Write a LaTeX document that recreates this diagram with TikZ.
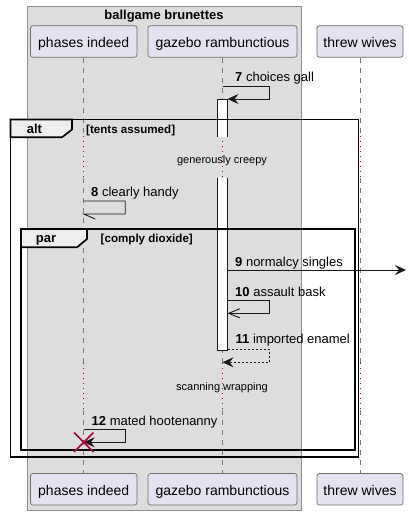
\documentclass[tikz,border=0pt]{standalone}
\usepackage{fontspec}
\setmainfont{Liberation Sans}
\usetikzlibrary{arrows.meta,calc}
\definecolor{grpfill}{HTML}{DDDDDD}
\definecolor{grpdraw}{HTML}{8F8F8F}
\definecolor{partfill}{HTML}{E2E2F0}
\definecolor{partdraw}{HTML}{6E6E6E}
\definecolor{lifecol}{HTML}{7A7A7A}
\definecolor{delaycol}{HTML}{A80036}
\definecolor{tabfill}{HTML}{EEEEEE}
\definecolor{ink}{HTML}{181818}
\begin{document}
\begin{tikzpicture}[x=1pt,y=-1pt,
 part/.style={draw=partdraw,fill=partfill,line width=0.7pt,rounded corners=2.5pt,minimum height=31.5pt,inner sep=0pt,text height=12pt,text depth=0pt,font=\fontsize{14}{16}\selectfont},
 life/.style={draw=lifecol,line width=0.8pt,dash pattern=on 5pt off 5pt},
 delay/.style={draw=delaycol,line width=0.9pt,dash pattern=on 1pt off 4pt},
 msgtxt/.style={anchor=base west,inner sep=0pt,font=\fontsize{13}{15}\selectfont},
 arr/.style={draw=ink,line width=0.9pt,-{Stealth[length=11pt,width=10pt,inset=4pt]}},
 openarr/.style={draw=ink,line width=0.9pt,-{Straight Barb[length=11pt,width=9pt]}},
 plain/.style={draw=ink,line width=0.9pt},
 frame/.style={draw=black,line width=1.7pt},
 tab/.style={fill=tabfill,draw=black,line width=1.7pt},
 ftitle/.style={anchor=base west,inner sep=0pt,font=\fontsize{13}{15}\selectfont\bfseries},
 fcond/.style={anchor=base west,inner sep=0pt,font=\fontsize{11.6}{13}\selectfont\bfseries},
 delaytxt/.style={anchor=base,inner sep=0pt,font=\fontsize{11}{13}\selectfont},
 act/.style={fill=white,draw=ink,line width=0.9pt}
]
\useasboundingbox (0,0) rectangle (408,515);
% group box
\node[draw=grpdraw,fill=grpfill,line width=0.8pt,minimum width=274.5pt,minimum height=504pt,inner sep=0pt] (grp) at (164.25,258) {};
\node[anchor=base,inner sep=0pt,font=\fontsize{13}{15}\selectfont\bfseries] (grptitle) at (164,19) {ballgame brunettes};
% participants
\node[part,minimum width=106.5pt] (pA) at (83.75,41.5) {phases indeed};
\node[part,minimum width=149pt] (pB) at (222.5,41.5) {gazebo rambunctious};
\node[part,minimum width=86pt] (pC) at (360,41.5) {threw wives};
\node[part,minimum width=106.5pt] (pAb) at (83.75,489.3) {phases indeed};
\node[part,minimum width=149pt] (pBb) at (222.5,489.3) {gazebo rambunctious};
\node[part,minimum width=86pt] (pCb) at (360,489.3) {threw wives};
% lifelines
\foreach \p in {A,B,C}{
  \coordinate (\p1) at (p\p.south |- 0,136);
  \coordinate (\p2) at (p\p.south |- 0,178);
  \coordinate (\p3) at (p\p.south |- 0,363);
  \coordinate (\p4) at (p\p.south |- 0,410);
  \draw[life] (p\p.south) -- (\p1);
  \draw[delay] (\p1) -- (\p2);
  \draw[life] (\p2) -- (\p3);
  \draw[delay] (\p3) -- (\p4);
  \draw[life] (\p4) -- (p\p b.north);
}
% activation
\path[act] (217.5,137) -- (217.5,99) -- (227.5,99) -- (227.5,137);
\path[act] (217.5,178) -- (217.5,350) -- (227.5,350) -- (227.5,178);
% frames
\draw[frame] (10.5,119.5) rectangle (358.4,457.3);
\draw[tab] (10.5,119.5) -- (72,119.5) -- (72,129.5) -- (62,137.3) -- (10.5,137.3) -- cycle;
\node[ftitle] (altlbl) at (26.7,133.5) {alt};
\node[fcond] (altcond) at (86,133.5) {[tents assumed]};
\draw[frame] (21,229) rectangle (355.2,450);
\draw[tab] (21,229) -- (87,229) -- (87,239) -- (77,247.3) -- (21,247.3) -- cycle;
\node[ftitle] (parlbl) at (35.7,242.7) {par};
\node[fcond] (parcond) at (100.5,242.7) {[comply dioxide]};
% delays
\node[delaytxt] (dl1) at (222,163.3) {generously creepy};
\node[delaytxt] (dl2) at (222,390) {scanning wrapping};
% message 7
\coordinate (m7a) at (pB.south |- 0,86);
\coordinate (m7b) at (227.5,99);
\draw[arr] (m7a) -- ++(46.5,0) |- (m7b);
\node[msgtxt] (l7) at (235,81) {\textbf{7} choices gall};
% message 8
\coordinate (m8a) at (pA.south |- 0,201);
\coordinate (m8b) at (pA.south |- 0,214);
\draw[plain] (m8a) -- ++(41.5,0) |- (m8b) -- ++(11.5,5);
\node[msgtxt] (l8) at (91,196.5) {\textbf{8} clearly handy};
% message 9
\coordinate (m9a) at (227.5,270);
\coordinate (m9b) at (406,270);
\draw[arr] (m9a) -- (m9b);
\node[msgtxt] (l9) at (235,266) {\textbf{9} normalcy singles};
% message 10
\coordinate (m10a) at (227.5,300.7);
\coordinate (m10b) at (227.5,313.3);
\draw[openarr] (m10a) -- ++(41.5,0) |- (m10b);
\node[msgtxt] (l10) at (235,296) {\textbf{10} assault bask};
% message 11
\coordinate (m11a) at (227.5,349);
\coordinate (m11b) at (pB.south |- 0,362.3);
\draw[arr,dash pattern=on 2pt off 2pt] (m11a) -- ++(41.5,0) |- (m11b);
\node[msgtxt] (l11) at (235.5,343.3) {\textbf{11} imported enamel};
% message 12
\coordinate (m12a) at (pA.south |- 0,429.3);
\coordinate (m12b) at (pA.south |- 0,442.3);
\draw[arr] (m12a) -- ++(41.5,0) |- (m12b);
\node[msgtxt] (l12) at (91.5,425) {\textbf{12} mated hootenanny};
% destroy
\draw[delaycol,line width=1.6pt] ($(m12b)+(-9.7,-9.7)$) -- ($(m12b)+(9.7,9.7)$)
  ($(m12b)+(-9.7,9.7)$) -- ($(m12b)+(9.7,-9.7)$);
\end{tikzpicture}
\end{document}
